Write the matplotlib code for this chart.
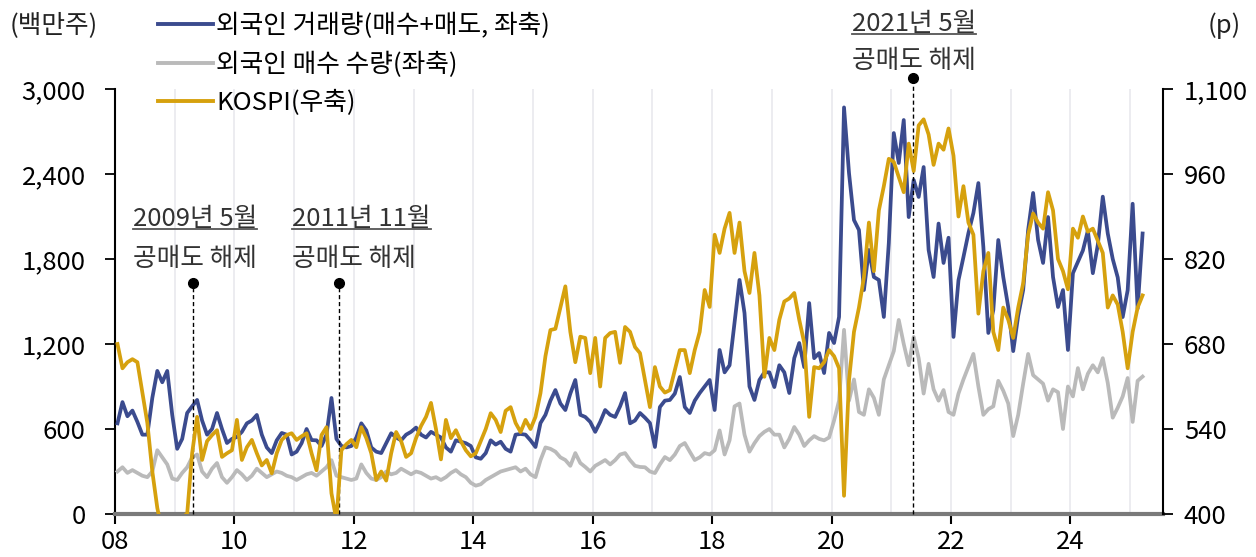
import numpy as np
import matplotlib.pyplot as plt
from matplotlib.lines import Line2D

plt.rcParams['font.family'] = ['Noto Sans CJK KR', 'DejaVu Sans']

# monthly values, Jan 2008 .. Mar 2025
start_year = 2008

# 외국인 거래량 (매수+매도), 백만주
foreign_volume = [
    640, 790, 690, 730, 650, 560, 560, 820, 1010, 930, 1010, 700,
    460, 530, 713, 760, 805, 660, 560, 600, 713, 600, 501, 530,
    544, 580, 640, 660, 699, 560, 470, 430, 520, 572, 560, 420,
    440, 500, 600, 522, 520, 480, 560, 819, 530, 480, 470, 480,
    540, 640, 590, 470, 440, 430, 500, 570, 540, 520, 560, 580,
    610, 560, 540, 580, 560, 540, 470, 440, 520, 510, 500, 480,
    400, 390, 430, 520, 490, 510, 460, 440, 560, 565, 560, 520,
    473, 642, 700, 800, 875, 780, 734, 850, 946, 700, 685, 650,
    580, 650, 734, 700, 685, 760, 854, 640, 660, 713, 680, 642,
    473, 755, 800, 805, 850, 967, 755, 713, 800, 854, 900, 946,
    734, 1158, 1000, 1050, 1348, 1652, 1419, 900, 805, 946, 1000, 1000,
    896, 1050, 1000, 854, 1100, 1207, 1037, 1489, 1100, 1136, 995, 1278,
    1207, 1391, 2870, 2407, 2075, 2005, 1581, 1864, 1673, 1652, 1391, 1913,
    2689, 2478, 2781, 2096, 2358, 2238, 2449, 1864, 1673, 2050, 1772, 1950,
    1250, 1650, 1814, 1983, 2125, 2336, 1885, 1278, 1440, 1934, 1673, 1461,
    1150, 1400, 1581, 2005, 2266, 1934, 1772, 2096, 1673, 1461, 1581, 1158,
    1700, 1780, 1860, 2000, 1700, 1900, 2240, 1980, 1800, 1670, 1390, 1580,
    2190, 1450, 1980,
]

# 외국인 매수 수량, 백만주
foreign_buy = [
    300, 330, 290, 310, 290, 270, 260, 300, 450, 400, 350, 250,
    240, 290, 330, 400, 420, 300, 260, 320, 360, 260, 220, 260,
    310, 280, 240, 270, 320, 290, 260, 280, 300, 290, 270, 260,
    240, 260, 280, 290, 270, 300, 330, 380, 270, 260, 250, 240,
    250, 350, 290, 250, 240, 260, 300, 280, 290, 320, 300, 280,
    300, 290, 270, 250, 260, 240, 260, 290, 310, 280, 260, 220,
    200, 210, 240, 260, 280, 300, 310, 320, 330, 300, 320, 280,
    260, 380, 470, 460, 440, 400, 381, 340, 430, 360, 332, 300,
    340, 360, 381, 350, 380, 420, 430, 380, 340, 332, 330, 300,
    289, 350, 402, 380, 420, 480, 501, 440, 381, 400, 430, 420,
    450, 590, 420, 520, 760, 780, 560, 440, 500, 550, 580, 600,
    560, 560, 470, 530, 614, 560, 480, 520, 550, 530, 520, 540,
    660, 800, 1300, 800, 950, 720, 700, 880, 820, 700, 950, 1050,
    1150, 1370, 1200, 1050, 1250, 1100, 850, 1060, 880, 800, 875, 720,
    700, 850, 950, 1040, 1130, 900, 700, 740, 760, 940, 870, 780,
    550, 700, 920, 1130, 980, 950, 920, 800, 880, 860, 600, 900,
    830, 1030, 880, 990, 1050, 1000, 1100, 925, 680, 750, 830, 960,
    650, 940, 970,
]

# KOSPI (우축), p
kospi = [
    680, 640, 650, 655, 650, 600, 550, 470, 410, 370, 360, 370,
    385, 395, 400, 500, 560, 489, 520, 530, 538, 494, 500, 505,
    555, 489, 510, 522, 500, 480, 489, 467, 500, 522, 530, 533,
    522, 528, 533, 500, 472, 530, 543, 434, 390, 505, 515, 522,
    510, 543, 525, 500, 456, 470, 455, 500, 535, 520, 494, 500,
    525, 545, 560, 583, 540, 490, 555, 525, 538, 520, 505, 495,
    500, 520, 540, 566, 555, 535, 570, 576, 550, 535, 555, 540,
    560, 599, 660, 703, 705, 740, 775, 700, 650, 692, 690, 632,
    690, 610, 690, 698, 700, 649, 708, 700, 675, 665, 620, 576,
    642, 610, 600, 604, 637, 670, 670, 632, 670, 700, 769, 741,
    860, 830, 870, 896, 830, 880, 800, 764, 830, 760, 626, 690,
    670, 720, 750, 755, 764, 720, 682, 560, 642, 640, 650, 670,
    660, 640, 430, 620, 700, 740, 790, 880, 800, 900, 940, 985,
    980, 955, 930, 1010, 965, 1040, 1050, 1025, 975, 1010, 1000, 1035,
    990, 890, 940, 880, 860, 730, 800, 830, 700, 670, 740, 720,
    690, 740, 780, 860, 895, 880, 870, 930, 900, 820, 800, 770,
    870, 855, 890, 865, 870, 850, 830, 740, 760, 745, 700, 640,
    700, 740, 760,
]

year_ticks = [2008, 2010, 2012, 2014, 2016, 2018, 2020, 2022, 2024]
year_labels = ['08', '10', '12', '14', '16', '18', '20', '22', '24']
left_ticks = [0, 600, 1200, 1800, 2400, 3000]
right_ticks = [400, 540, 680, 820, 960, 1100]

event_dates = [2009.31, 2011.75, 2021.37]
event_titles = ['2009년 5월', '2011년 11월', '2021년 5월']

NAVY = '#3b4b8e'
GRAY = '#bababa'
GOLD = '#d6a10e'
FS = 18.5
LW = 2.7

t = start_year + (np.arange(len(foreign_volume)) + 0.5) / 12

fig = plt.figure(figsize=(12.56, 5.57), dpi=100)
ax = fig.add_axes([115 / 1256, 1 - 514 / 557, 1048 / 1256, 425 / 557])
ax2 = ax.twinx()

ax.plot(t, foreign_buy, color=GRAY, lw=LW, zorder=3)
ax.plot(t, foreign_volume, color=NAVY, lw=LW, zorder=4)
ax2.plot(t, kospi, color=GOLD, lw=LW, zorder=5)

ax.set_xlim(2008, 2025.55)
ax.set_ylim(0, 3000)
ax2.set_ylim(400, 1100)

ax.set_xticks(year_ticks)
ax.set_xticklabels(year_labels)
ax.set_xticks(range(2009, 2026), minor=True)
ax.grid(axis='x', which='both', color='#e9e9ee', lw=1.2)
ax.set_axisbelow(True)
ax.tick_params(axis='x', which='minor', length=0)
ax.tick_params(axis='x', which='major', direction='out', length=7, width=1.5,
               pad=4, labelsize=FS)

ax.set_yticks(left_ticks)
ax.set_yticklabels([f'{v:,}' for v in left_ticks])
ax.tick_params(axis='y', direction='out', length=7, width=1.3, pad=14, labelsize=FS)
ax2.set_yticks(right_ticks)
ax2.set_yticklabels([f'{v:,}' for v in right_ticks])
ax2.tick_params(axis='y', direction='out', length=7, width=1.3, pad=8, labelsize=FS)

for a in (ax, ax2):
    a.spines['top'].set_visible(False)
ax.spines['right'].set_visible(False)
ax2.spines['left'].set_visible(False)
ax2.spines['bottom'].set_visible(False)
ax.spines['left'].set_linewidth(1.5)
ax2.spines['right'].set_linewidth(1.5)
ax.spines['bottom'].set_linewidth(3)
ax.spines['bottom'].set_color('#7a7a7a')

# events: dot + dashed line
dot_levels = [1630, 1630, 3078]
for x, lvl in zip(event_dates, dot_levels):
    ax.plot([x, x], [0, lvl], color='black', lw=1, ls=(0, (3, 2)), clip_on=False, zorder=6)
    ax.plot(x, lvl, 'o', color='black', ms=7, clip_on=False, zorder=7)

text_x = [2008.30, 2010.965, 2020.345]
title_y = [2082, 2082, 3459]
sub_y = [1800, 1800, 3198]
titles = []
for x, ty, sy, title in zip(text_x, title_y, sub_y, event_titles):
    titles.append(ax.text(x, ty, title, fontsize=FS, color='#333333',
                          ha='left', va='center'))
    ax.text(x, sy, '공매도 해제', fontsize=FS, color='#333333', ha='left', va='center')

# underline the event titles
fig.canvas.draw()
renderer = fig.canvas.get_renderer()
for txt in titles:
    bb = txt.get_window_extent(renderer).transformed(fig.transFigure.inverted())
    fig.add_artist(Line2D([bb.x0, bb.x1], [bb.y0 + 0.006, bb.y0 + 0.006],
                          color='#555555', lw=1.3, transform=fig.transFigure))

# unit labels
fig.text(10 / 1256, 1 - 25 / 557, '(백만주)', fontsize=FS, color='#222222', va='center')
fig.text(1208 / 1256, 1 - 26 / 557, '(p)', fontsize=FS, color='#222222', va='center')

handles = [Line2D([], [], color=NAVY, lw=2.8),
           Line2D([], [], color=GRAY, lw=2.8),
           Line2D([], [], color=GOLD, lw=2.8)]
labels = ['외국인 거래량(매수+매도, 좌축)', '외국인 매수 수량(좌축)', 'KOSPI(우축)']
fig.legend(handles, labels, loc='upper left', bbox_to_anchor=(158 / 1256, 1 - 13 / 557),
           frameon=False, fontsize=FS, handlelength=2.15, handletextpad=0.12,
           labelspacing=0.48, borderpad=0, borderaxespad=0)

fig.savefig('out.png', dpi=100)
